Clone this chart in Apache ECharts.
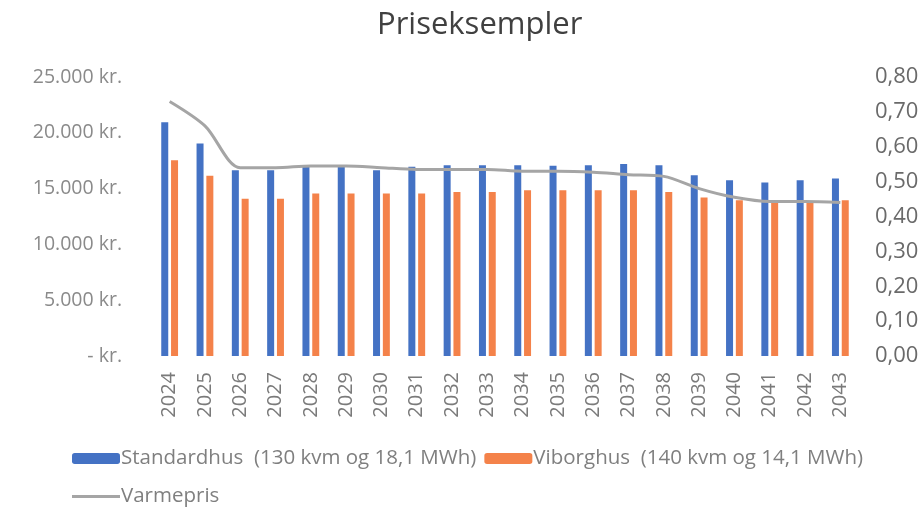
<!DOCTYPE html>
<html>
<head>
<meta charset="utf-8">
<script src="https://cdn.jsdelivr.net/npm/echarts@6/dist/echarts.min.js"></script>
<style>
  html, body { margin: 0; padding: 0; background: #fff; }
  #chart { width: 922px; height: 507px; }
</style>
</head>
<body>
<div id="chart"></div>
<script>
// data
const years = ['2024', '2025', '2026', '2027', '2028', '2029', '2030', '2031', '2032', '2033',
  '2034', '2035', '2036', '2037', '2038', '2039', '2040', '2041', '2042', '2043']
const standardhus = [20950, 19050, 16650, 16650, 16950, 17100, 16650, 16950, 17100, 17100,
  17100, 17050, 17100, 17200, 17100, 16200, 15750, 15550, 15750, 15900]
const viborghus = [17550, 16150, 14100, 14100, 14550, 14550, 14550, 14550, 14700, 14700,
  14850, 14850, 14850, 14850, 14700, 14200, 13950, 13850, 13850, 13950]
const varmepris = [0.73, 0.66, 0.54, 0.54, 0.545, 0.545, 0.54, 0.535, 0.535, 0.535,
  0.53, 0.53, 0.527, 0.52, 0.515, 0.48, 0.455, 0.443, 0.443, 0.44]
const leftTicks = [0, 5000, 10000, 15000, 20000, 25000]
const rightTicks = [0, 0.1, 0.2, 0.3, 0.4, 0.5, 0.6, 0.7, 0.8]

const font = 'Open Sans'
const chart = echarts.init(document.getElementById('chart'))

function kr(v) {
  if (v === 0) return '- kr.'
  return v.toString().replace(/\B(?=(\d{3})+(?!\d))/g, '.') + ' kr.'
}

const option = {
  backgroundColor: '#fff',
  animation: false,
  title: {
    text: 'Priseksempler',
    left: 372,
    top: 5,
    textStyle: { fontFamily: font, fontSize: 31, fontWeight: 'normal', color: '#404040' },
  },
  legend: [
    {
      data: ['Standardhus  (130 kvm og 18,1 MWh)', 'Viborghus  (140 kvm og 14,1 MWh)'],
      left: 72,
      top: 448,
      padding: 0,
      itemWidth: 48,
      itemHeight: 11,
      itemGap: 8,
      textStyle: { fontFamily: font, fontSize: 20.5, color: '#7f7f7f', padding: [0, 0, 0, -4] },
    },
    {
      data: [{ name: 'Varmepris', icon: 'rect' }],
      left: 72,
      top: 486,
      padding: 0,
      itemWidth: 48,
      itemHeight: 3,
      textStyle: { fontFamily: font, fontSize: 20.5, color: '#7f7f7f', padding: [0, 0, 0, -4] },
    },
  ],
  grid: { left: 152, right: 64, top: 77, bottom: 151 },
  xAxis: {
    type: 'category',
    data: years,
    axisLine: { show: false },
    axisTick: { show: false },
    axisLabel: { rotate: 90, margin: 16, fontFamily: font, fontSize: 20, color: '#7a7a7a' },
  },
  yAxis: [
    {
      type: 'value',
      min: leftTicks[0],
      max: leftTicks[leftTicks.length - 1],
      interval: 5000,
      splitLine: { show: false },
      axisLine: { show: false },
      axisTick: { show: false },
      axisLabel: { margin: 30, fontFamily: font, fontSize: 19.5, color: '#8a8a8a', formatter: kr },
    },
    {
      type: 'value',
      min: rightTicks[0],
      max: rightTicks[rightTicks.length - 1],
      interval: 0.1,
      splitLine: { show: false },
      axisLine: { show: false },
      axisTick: { show: false },
      axisLabel: {
        margin: 17,
        fontFamily: font,
        fontSize: 22,
        color: '#6a6a6a',
        formatter: (v) => v.toFixed(2).replace('.', ','),
      },
    },
  ],
  series: [
    {
      name: 'Standardhus  (130 kvm og 18,1 MWh)',
      type: 'bar',
      data: standardhus,
      barWidth: 7,
      barGap: '40%',
      itemStyle: { color: '#4472c4' },
    },
    {
      name: 'Viborghus  (140 kvm og 14,1 MWh)',
      type: 'bar',
      data: viborghus,
      barWidth: 7,
      itemStyle: { color: '#f4824a' },
    },
    {
      name: 'Varmepris',
      type: 'line',
      yAxisIndex: 1,
      data: varmepris,
      smooth: 0.3,
      symbol: 'none',
      lineStyle: { color: '#a5a5a5', width: 3 },
      itemStyle: { color: '#a5a5a5' },
    },
  ],
}

chart.setOption(option)
</script>
</body>
</html>
